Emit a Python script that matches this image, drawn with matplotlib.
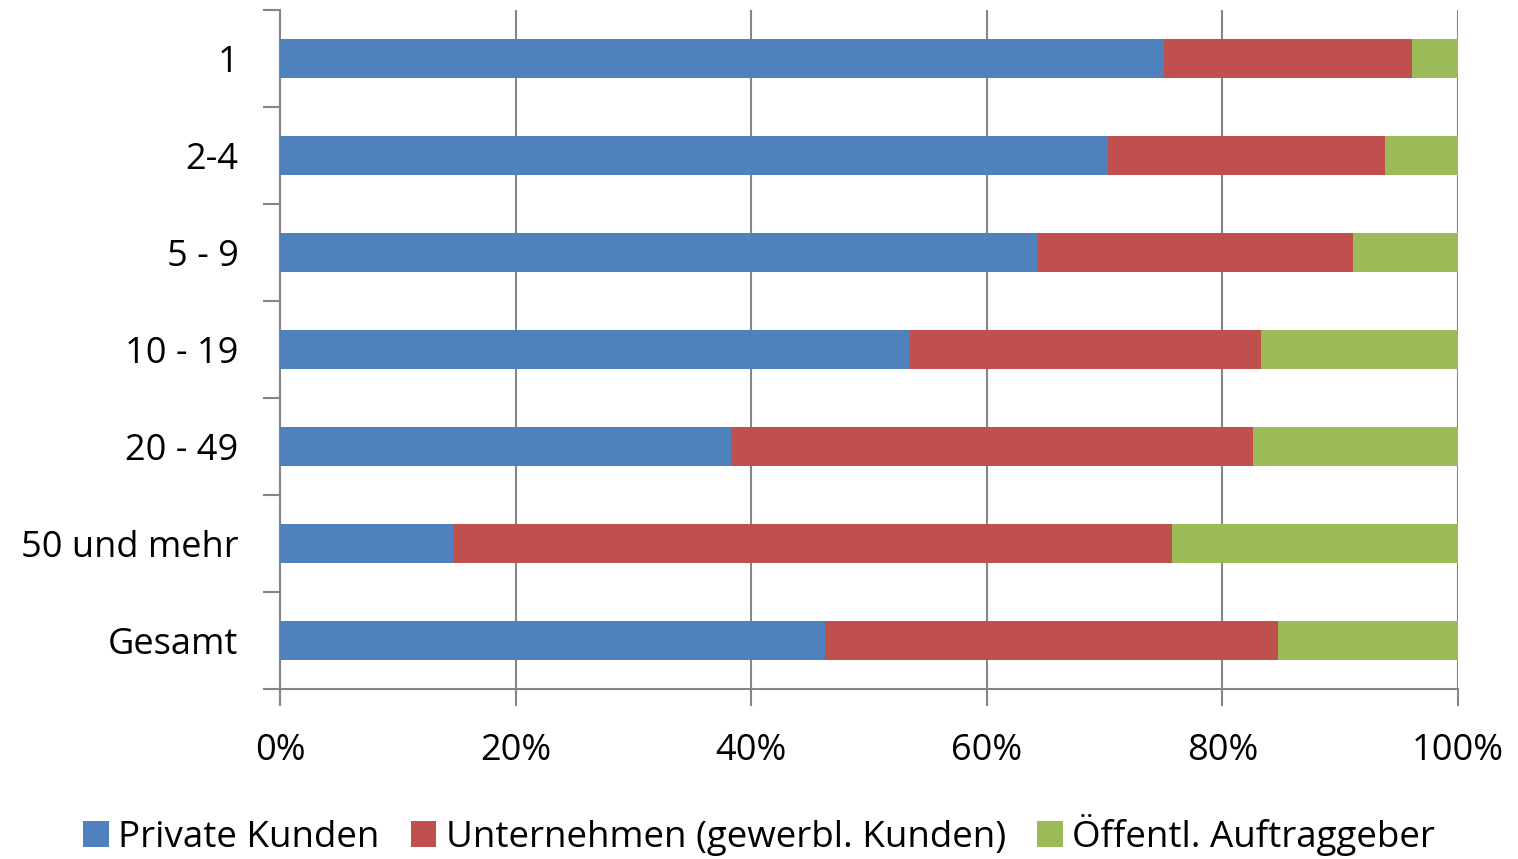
import matplotlib.pyplot as plt
import numpy as np

plt.rcParams["font.family"] = ["Open Sans", "DejaVu Sans"]

categories = ["1", "2-4", "5 - 9", "10 - 19", "20 - 49", "50 und mehr", "Gesamt"]
private = [75.0, 70.3, 64.3, 53.5, 38.3, 14.8, 46.3]
unternehmen = [21.1, 23.5, 26.8, 29.8, 44.3, 60.9, 38.4]
oeffentlich = [3.9, 6.2, 8.9, 16.7, 17.4, 24.3, 15.3]
series_names = ["Private Kunden", "Unternehmen (gewerbl. Kunden)", "Öffentl. Auftraggeber"]
colors = ["#4f81bd", "#c0504d", "#9bbb59"]

fig, ax = plt.subplots(figsize=(15.18, 8.59), dpi=100)
fig.subplots_adjust(left=0.1845, right=0.9605, top=0.988, bottom=0.198)

y = np.arange(len(categories))
left = np.zeros(len(categories))
for vals, name, col in zip([private, unternehmen, oeffentlich], series_names, colors):
    ax.barh(y, vals, left=left, height=0.4, color=col, label=name, zorder=3)
    left += np.array(vals)

ax.set_ylim(len(categories) - 0.5, -0.5)
ax.set_xlim(0, 100)
ax.set_yticks(y)
ax.set_yticklabels(categories, fontsize=26)
ax.set_yticks(np.arange(-0.5, len(categories)), minor=True)
ax.tick_params(axis="y", which="major", length=0, pad=30)
ax.tick_params(axis="y", which="minor", length=12, color="#868686", width=1.5)

ax.set_xticks(np.arange(0, 101, 20))
ax.set_xticklabels([f"{v}%" for v in range(0, 101, 20)], fontsize=26)
ax.tick_params(axis="x", length=12, color="#868686", width=1.5, pad=20)
ax.grid(axis="x", color="#868686", linewidth=1.5, zorder=0)

for s in ["top", "right"]:
    ax.spines[s].set_visible(False)
for s in ["left", "bottom"]:
    ax.spines[s].set_color("#868686")
    ax.spines[s].set_linewidth(1.5)

fig.legend(loc="lower center", ncol=3, frameon=False, fontsize=26.5,
           bbox_to_anchor=(0.5, -0.035), handlelength=0.7, handleheight=0.7,
           handletextpad=0.25, columnspacing=0.85)

fig.savefig("out.png", dpi=100)
